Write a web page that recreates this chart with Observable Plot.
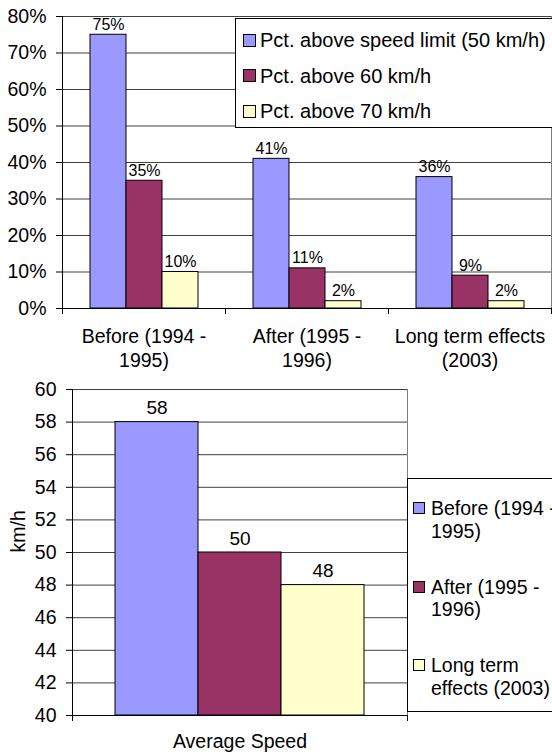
<!DOCTYPE html>
<html>
<head>
<meta charset="utf-8">
<script src="https://cdn.jsdelivr.net/npm/d3@7"></script>
<script src="https://cdn.jsdelivr.net/npm/@observablehq/plot@0.6"></script>
<style>
  html, body { margin: 0; padding: 0; background: #fff; overflow: hidden; }
  #page { position: relative; width: 552px; height: 755px; overflow: hidden;
          font-family: "Liberation Sans", Arial, sans-serif; color: #000; }
  .chart { position: absolute; left: 0; }
  .chart svg { display: block; }
  .legend { position: absolute; background: #fff; border: 1px solid #000; box-sizing: border-box; }
  .legend .row { position: absolute; display: flex; align-items: flex-start; white-space: pre; }
  .legend .swatch { box-sizing: border-box; border: 1px solid #000; flex: none; }
</style>
</head>
<body>
<div id="page"></div>
<script>
// Periods compared in both charts
const periods = ["Before (1994 - 1995)", "After (1995 - 1996)", "Long term effects (2003)"];
const periodTicks = ["Before (1994 -\n1995)", "After (1995 -\n1996)", "Long term effects\n(2003)"];
const periodLegend = ["Before (1994 -\n1995)", "After (1995 -\n1996)", "Long term\neffects (2003)"];

// Share of vehicles above each speed threshold
const thresholds = ["Pct. above speed limit (50 km/h)", "Pct. above 60 km/h", "Pct. above 70 km/h"];
const pctAbove50 = [0.75, 0.41, 0.36];
const pctAbove60 = [0.35, 0.11, 0.09];
const pctAbove70 = [0.10, 0.02, 0.02];
const pctTicks = [0, 0.1, 0.2, 0.3, 0.4, 0.5, 0.6, 0.7, 0.8];

// Average speed per period
const speedGroup = "Average Speed";
const avgSpeed = [58, 50, 48];
const speedTicks = [40, 42, 44, 46, 48, 50, 52, 54, 56, 58, 60];
const speedUnit = "km/h";

const palette = ["#9999FF", "#993366", "#FFFFCC"];
const FONT = '"Liberation Sans", Arial, sans-serif';
const pct = d3.format(".0%");

const page = document.getElementById("page");

// Small ticks on the category axis at the band edges
function bandEdgeTicks(chart, domain) {
  const fx = chart.scale("fx");
  const yBottom = chart.scale("y").range[0];
  const edges = domain.map(d => fx.apply(d)).concat([fx.apply(domain[domain.length - 1]) + fx.bandwidth]);
  d3.select(chart).append("g")
    .attr("stroke", "#000")
    .selectAll("line").data(edges).join("line")
    .attr("x1", x => Math.round(x) + 0.5).attr("x2", x => Math.round(x) + 0.5)
    .attr("y1", yBottom).attr("y2", yBottom + 6);
}

function legendBox(box, labels, color, opts) {
  const div = d3.select(page).append("div").attr("class", "legend")
    .style("left", box.left + "px").style("top", box.top + "px")
    .style("width", box.width + "px").style("height", box.height + "px");
  const rows = div.selectAll(".row").data(labels).join("div").attr("class", "row")
    .style("left", opts.left + "px")
    .style("top", (d, i) => (opts.top + i * opts.step) + "px")
    .style("font-size", opts.fontSize + "px")
    .style("line-height", opts.lineHeight + "px");
  rows.append("span").attr("class", "swatch")
    .style("width", opts.swatch + "px").style("height", opts.swatch + "px")
    .style("margin-top", ((opts.lineHeight - opts.swatch) / 2) + "px")
    .style("margin-right", opts.gap + "px")
    .style("background", (d, i) => color.apply(opts.keys[i]));
  rows.append("span").text(d => d);
}

// ---- Chart 1: percentage of vehicles above thresholds ----
const pctRows = periods.flatMap((p, i) =>
  [pctAbove50, pctAbove60, pctAbove70].map((vals, j) => ({period: p, series: thresholds[j], value: vals[i]})));

const chart1 = Plot.plot({
  width: 552,
  height: 370,
  marginLeft: 62,
  marginRight: 1,
  marginTop: 16,
  marginBottom: 62,
  style: {fontFamily: FONT, fontSize: "19.5px", color: "#000", background: "transparent", overflow: "visible"},
  fx: {domain: periods, padding: 0, label: null},
  x: {domain: thresholds, paddingInner: 0, paddingOuter: 0.74, axis: null},
  y: {domain: [0, 0.8], label: null},
  color: {domain: thresholds, range: palette},
  marks: [
    Plot.gridY(pctTicks, {stroke: "#000", strokeOpacity: 0.75}),
    Plot.barY(pctRows, {fx: "period", x: "series", y: "value", fill: "series", stroke: "#000", strokeWidth: 1}),
    Plot.text(pctRows, {fx: "period", x: "series", y: "value", text: d => pct(d.value),
      lineAnchor: "bottom", dy: -5, fontSize: 16}),
    Plot.ruleY([0], {stroke: "#000"}),
    Plot.axisY(pctTicks, {tickFormat: pct, tickSize: 6, tickPadding: 10, label: null}),
    Plot.axisFx({anchor: "bottom", tickSize: 0, tickPadding: 18, lineHeight: 1.2, label: null,
      tickFormat: d => periodTicks[periods.indexOf(d)]}),
    Plot.frame({anchor: "left", facetAnchor: "left", stroke: "#000"}),
    Plot.frame({anchor: "right", facetAnchor: "right", stroke: "#808080"})
  ]
});
bandEdgeTicks(chart1, periods);
const wrap1 = d3.select(page).append("div").attr("class", "chart").style("top", "0px");
wrap1.node().appendChild(chart1);

// ---- Chart 2: average speed ----
const speedRows = periods.map((p, i) => ({group: speedGroup, period: p, value: avgSpeed[i]}));
const speedBase = speedTicks[0];

const chart2 = Plot.plot({
  width: 552,
  height: 385,
  marginLeft: 72,
  marginRight: 145,
  marginTop: 19,
  marginBottom: 40,
  style: {fontFamily: FONT, fontSize: "19.5px", color: "#000", background: "transparent", overflow: "visible"},
  fx: {domain: [speedGroup], padding: 0, label: null},
  x: {domain: periods, paddingInner: 0, paddingOuter: 0.5, axis: null},
  y: {domain: [speedBase, speedTicks[speedTicks.length - 1]], label: null},
  color: {domain: periods, range: palette},
  marks: [
    Plot.gridY(speedTicks, {stroke: "#000", strokeOpacity: 0.75}),
    Plot.barY(speedRows, {fx: "group", x: "period", y1: () => speedBase, y2: "value", fill: "period",
      stroke: "#000", strokeWidth: 1}),
    Plot.text(speedRows, {fx: "group", x: "period", y: "value", text: d => String(d.value),
      lineAnchor: "bottom", dy: -8, fontSize: 19}),
    Plot.ruleY([speedBase], {stroke: "#000"}),
    Plot.axisY(speedTicks, {tickSize: 6, tickPadding: 10, label: null}),
    Plot.axisFx({anchor: "bottom", tickSize: 0, tickPadding: 19, label: null}),
    Plot.text([speedUnit], {text: d => d, frameAnchor: "left", rotate: -90, dx: -54, fontSize: 19.5}),
    Plot.frame({anchor: "left", stroke: "#000"}),
    Plot.frame({anchor: "right", stroke: "#808080"})
  ]
});
bandEdgeTicks(chart2, [speedGroup]);
const wrap2 = d3.select(page).append("div").attr("class", "chart").style("top", "370px");
wrap2.node().appendChild(chart2);

// ---- Legends ----
legendBox({left: 235, top: 18, width: 330, height: 110}, thresholds, chart1.scale("color"),
  {keys: thresholds, left: 7, top: 9, step: 35.5, fontSize: 20, lineHeight: 24, swatch: 13, gap: 4});

legendBox({left: 407, top: 478, width: 160, height: 234}, periodLegend, chart2.scale("color"),
  {keys: periods, left: 5, top: 18, step: 78.5, fontSize: 19.5, lineHeight: 22.5, swatch: 12, gap: 6});
</script>
</body>
</html>
